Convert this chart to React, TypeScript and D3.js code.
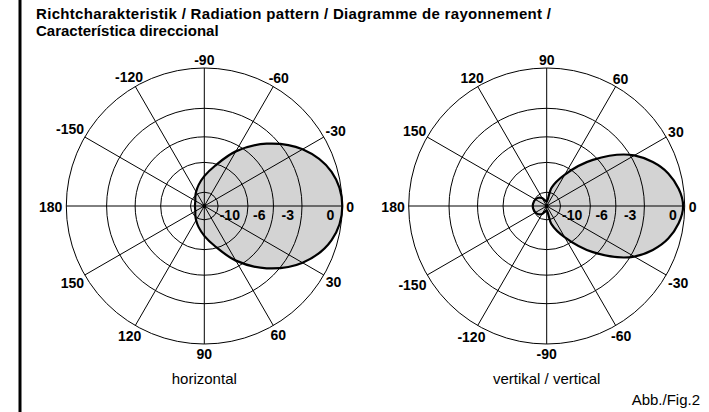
import React from "react";
import * as d3 from "d3";

const W = 709;
const H = 412;

const titleLines = [
  "Richtcharakteristik / Radiation pattern / Diagramme de rayonnement /",
  "Característica direccional",
];
const ringDb = [0, -3, -6, -10, -20];
const ringLabelDb = [-10, -6, -3, 0];
const spokeAngles = [0, 30, 60, 90, 120, 150, 180, 210, 240, 270, 300, 330];
const hAngleLabels = ["0", "-30", "-60", "-90", "-120", "-150", "180", "150", "120", "90", "60", "30"];
const vAngleLabels = ["0", "30", "60", "90", "120", "150", "180", "-150", "-120", "-90", "-60", "-30"];
const patternAngles = [0, 15, 30, 45, 60, 75, 90, 105, 120, 135, 150, 165, 180, 195, 210, 225, 240, 255, 270, 285, 300, 315, 330, 345];
const hPatternDb = [0, -0.4, -1.7, -3.9, -6.8, -10.4, -13.3, -16, -18.5, -20.7, -22.5, -23.2, -23.4, -23.2, -22.5, -20.7, -18.5, -16, -13.3, -10.4, -6.8, -3.9, -1.7, -0.4];
const vPatternDb = [-0.1, -0.8, -2.7, -6.5, -11.6, -17.2, -30, -27.5, -23.5, -21.5, -20.5, -20.1, -19.9, -20.1, -20.5, -21.5, -23.5, -27.5, -30, -17.2, -11.6, -6.5, -2.7, -0.8];
const chartTitles = ["horizontal", "vertikal / vertical"];
const figLabel = "Abb./Fig.2";

const FONT = "'Liberation Sans', Arial, Helvetica, sans-serif";
const R = 138;
const rScale = d3.scaleLinear().domain([0, 1]).range([0, R]);
const amp = (db: number) => Math.pow(10, db / 20);
const toRad = (deg: number) => (deg * Math.PI) / 180;

type PolarProps = {
  cx: number;
  cy: number;
  labels: string[];
  pattern: number[];
  title: string;
};

function Polar({ cx, cy, labels, pattern, title }: PolarProps) {
  const pts: [number, number][] = patternAngles.map((a, i) => [
    Math.PI / 2 - toRad(a),
    rScale(amp(pattern[i])),
  ]);
  const line = d3
    .lineRadial<[number, number]>()
    .angle((d) => d[0])
    .radius((d) => d[1])
    .curve(d3.curveCatmullRomClosed.alpha(0.5));
  const path = line(pts) || "";
  const fs = 14;
  return (
    <g>
      <g transform={`translate(${cx},${cy})`}>
        <path d={path} fill="#d3d3d3" stroke="none" />
        {ringDb.map((db) => (
          <circle key={db} r={rScale(amp(db))} fill="none" stroke="#000" strokeWidth={1} />
        ))}
        {spokeAngles.map((a) => (
          <line
            key={a}
            x1={0}
            y1={0}
            x2={R * Math.cos(toRad(a))}
            y2={-R * Math.sin(toRad(a))}
            stroke="#000"
            strokeWidth={1}
          />
        ))}
        <path d={path} fill="none" stroke="#000" strokeWidth={2.2} />
        <circle r={2} fill="#000" />
        {ringLabelDb.map((db) => (
          <text
            key={db}
            x={rScale(amp(db)) - 8}
            y={9}
            textAnchor="end"
            dominantBaseline="central"
            fontFamily={FONT}
            fontWeight="bold"
            fontSize={fs}
          >
            {db}
          </text>
        ))}
        {spokeAngles.map((a, i) => {
          const label = labels[i];
          const hw = label.length * 0.556 * fs * 0.5 - (label.startsWith("-") ? 0.11 * fs * 0.5 : 0);
          const hh = 5;
          const c = Math.cos(toRad(a));
          const s = Math.sin(toRad(a));
          const off = R + 4 + Math.sqrt((hw * c) ** 2 + (hh * s) ** 2);
          return (
            <text
              key={a}
              x={off * c}
              y={-off * s + 1}
              textAnchor="middle"
              dominantBaseline="central"
              fontFamily={FONT}
              fontWeight="bold"
              fontSize={fs}
            >
              {label}
            </text>
          );
        })}
      </g>
      <text x={cx} y={384} textAnchor="middle" fontFamily={FONT} fontSize={15}>
        {title}
      </text>
    </g>
  );
}

export default function App() {
  return (
    <div style={{ position: "absolute", left: 0, top: 0 }}>
      <svg width={W} height={H} viewBox={`0 0 ${W} ${H}`} style={{ display: "block", background: "#fff" }}>
        <rect x={0} y={0} width={W} height={H} fill="#fff" />
        <line x1={20} y1={0} x2={20} y2={H} stroke="#000" strokeWidth={3} />
        {titleLines.map((t, i) => (
          <text
            key={i}
            x={36}
            y={19 + i * 17}
            fontFamily={FONT}
            fontWeight="bold"
            fontSize={15}
            textLength={i === 0 ? 515 : undefined}
            lengthAdjust={i === 0 ? "spacing" : undefined}
          >
            {t}
          </text>
        ))}
        <Polar cx={204.3} cy={206} labels={hAngleLabels} pattern={hPatternDb} title={chartTitles[0]} />
        <Polar cx={546.7} cy={206} labels={vAngleLabels} pattern={vPatternDb} title={chartTitles[1]} />
        <text x={700} y={405} textAnchor="end" fontFamily={FONT} fontSize={15}>
          {figLabel}
        </text>
      </svg>
    </div>
  );
}
